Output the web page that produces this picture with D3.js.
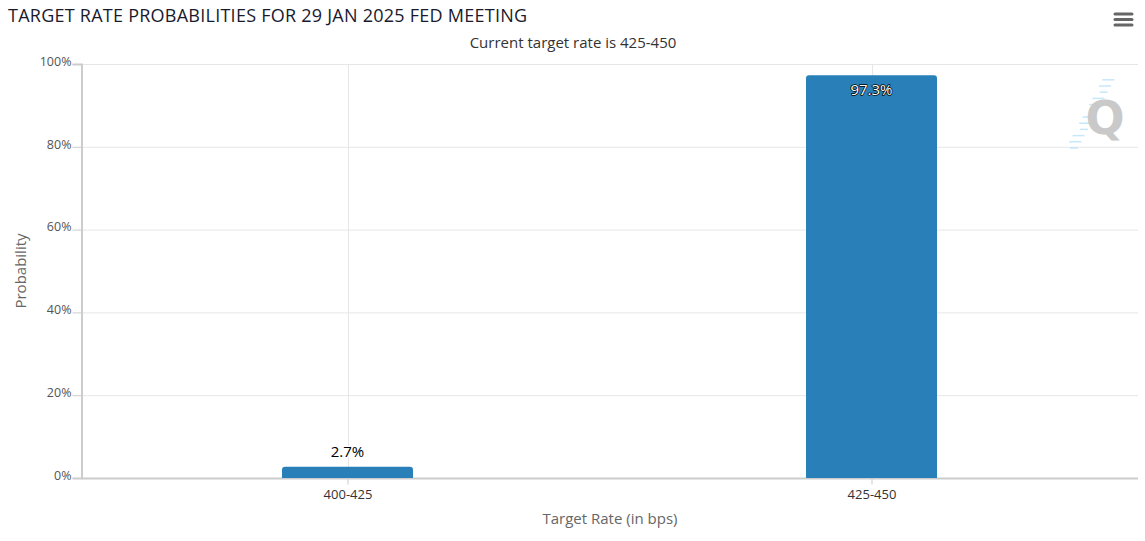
<!DOCTYPE html>
<html>
<head>
<meta charset="utf-8">
<script src="https://cdn.jsdelivr.net/npm/d3@7"></script>
<style>
  body { margin: 0; background: #fff; }
  text { font-family: "Open Sans", sans-serif; }
</style>
</head>
<body>
<script>
// Fed meeting rate probabilities
var categories = ["400-425", "425-450"];
var probabilities = [2.7, 97.3];
var yTicks = [0, 20, 40, 60, 80, 100];

var width = 1145;
var height = 541;

var margin = {
  top: 64,
  left: 82,
  right: 7,
  bottom: 63
};

var svg = d3.select("body")
  .append("svg")
  .attr("width", width)
  .attr("height", height);

// Scales (bands slightly inset from the plot frame)
var xScale = d3.scaleBand()
  .domain(categories)
  .range([85.5, 1133.5])
  .paddingInner(0.75)
  .paddingOuter(0.375);

var xGrid = d3.scalePoint()
  .domain(categories)
  .range([85.5, 1133.5])
  .padding(0.5);

var yScale = d3.scaleLinear()
  .domain([0, 100])
  .range([height - margin.bottom, margin.top]);

// Grid lines
svg.append("g")
  .selectAll("line.h")
  .data(yTicks)
  .enter()
  .append("line")
    .attr("x1", margin.left)
    .attr("x2", width - margin.right)
    .attr("y1", function(d) { return yScale(d) + 0.5; })
    .attr("y2", function(d) { return yScale(d) + 0.5; })
    .attr("stroke", "#e6e6e6");

svg.append("g")
  .selectAll("line.v")
  .data(categories)
  .enter()
  .append("line")
    .attr("x1", function(d) { return Math.round(xGrid(d)) + 0.5; })
    .attr("x2", function(d) { return Math.round(xGrid(d)) + 0.5; })
    .attr("y1", margin.top)
    .attr("y2", height - margin.bottom)
    .attr("stroke", "#e6e6e6");

// Axes
var yAxis = svg.append("g")
  .attr("transform", "translate(" + (margin.left - 0.5) + ",0)")
  .call(d3.axisLeft(yScale).tickValues(yTicks)
    .tickFormat(function(d) { return d + "%"; })
    .tickSize(9).tickPadding(1));
yAxis.select(".domain").attr("stroke", "#ccc").attr("stroke-width", 2);
yAxis.selectAll(".tick line").attr("stroke", "#ccc");
yAxis.selectAll("text").attr("fill", "#555").style("font-size", "12.5px")
  .style("font-family", "'Open Sans', sans-serif").attr("dy", "0.1em");

var xAxis = svg.append("g")
  .attr("transform", "translate(0," + (height - margin.bottom + 0.5) + ")")
  .call(d3.axisBottom(xGrid).tickSize(6).tickPadding(5));
xAxis.select(".domain").attr("stroke", "#ccc").attr("stroke-width", 2)
  .attr("d", "M" + margin.left + ",0H" + (width - margin.right));
xAxis.selectAll(".tick line").attr("stroke", "#ccc");
xAxis.selectAll("text").attr("fill", "#333").style("font-size", "13px")
  .style("font-family", "'Open Sans', sans-serif");

// Bars with rounded tops
var r = 3;
svg.append("g")
  .selectAll("path")
  .data(probabilities)
  .enter()
  .append("path")
    .attr("fill", "#2980b9")
    .attr("d", function(d, i) {
      var x0 = xScale(categories[i]), w = xScale.bandwidth();
      var y0 = yScale(d), y1 = yScale(0);
      return "M" + x0 + "," + y1 + "V" + (y0 + r) + "Q" + x0 + "," + y0 + " " + (x0 + r) + "," + y0 +
        "H" + (x0 + w - r) + "Q" + (x0 + w) + "," + y0 + " " + (x0 + w) + "," + (y0 + r) + "V" + y1 + "Z";
    });

// Data labels
svg.append("g")
  .selectAll("text")
  .data(probabilities)
  .enter()
  .append("text")
    .attr("x", function(d, i) { return xScale(categories[i]) + xScale.bandwidth() / 2; })
    .attr("y", function(d) { return d > 50 ? yScale(d) + 20 : yScale(d) - 10; })
    .attr("text-anchor", "middle")
    .style("font-size", "15px")
    .attr("fill", function(d) { return d > 50 ? "#fff" : "#000"; })
    .attr("stroke", function(d) { return d > 50 ? "#000" : "#fff"; })
    .attr("stroke-width", function(d) { return d > 50 ? 1.5 : 3; })
    .attr("stroke-linejoin", "round")
    .attr("paint-order", "stroke")
    .text(function(d) { return d.toFixed(1) + "%"; });

// Titles
svg.append("text")
  .attr("x", 8).attr("y", 22)
  .attr("fill", "#1a1a2e")
  .style("font-size", "18px")
  .style("letter-spacing", "0.25px")
  .text("TARGET RATE PROBABILITIES FOR 29 JAN 2025 FED MEETING");

svg.append("text")
  .attr("x", 573).attr("y", 48)
  .attr("text-anchor", "middle")
  .attr("fill", "#333")
  .style("font-size", "15px")
  .text("Current target rate is 425-450");

svg.append("text")
  .attr("x", 610).attr("y", 524)
  .attr("text-anchor", "middle")
  .attr("fill", "#666")
  .style("font-size", "15px")
  .text("Target Rate (in bps)");

svg.append("text")
  .attr("transform", "translate(26,271) rotate(-90)")
  .attr("text-anchor", "middle")
  .attr("fill", "#666")
  .style("font-size", "15px")
  .text("Probability");

// Menu icon
svg.append("g")
  .selectAll("line")
  .data([0, 1, 2])
  .enter()
  .append("line")
    .attr("x1", 1115).attr("x2", 1132)
    .attr("y1", function(d) { return 14 + d * 5.5; })
    .attr("y2", function(d) { return 14 + d * 5.5; })
    .attr("stroke", "#666")
    .attr("stroke-width", 3)
    .attr("stroke-linecap", "round");

// Watermark
var wm = svg.append("g").attr("opacity", 0.9);
wm.selectAll("line")
  .data(d3.range(12))
  .enter()
  .append("line")
    .attr("x1", function(d) { return 1070 + d * 3.3 - (d % 3 === 0 ? 0 : 4); })
    .attr("x2", function(d) { return 1074 + d * 3.3 + 4; })
    .attr("y1", function(d) { return 148 - d * 6.2; })
    .attr("y2", function(d) { return 148 - d * 6.2; })
    .attr("stroke", "#bfe6fb")
    .attr("stroke-width", 1.5);
wm.append("text")
  .attr("x", 1105).attr("y", 134)
  .attr("text-anchor", "middle")
  .attr("fill", "#c4c4c4")
  .style("font-size", "46px")
  .style("font-weight", "bold")
  .style("font-family", "'DejaVu Sans', sans-serif")
  .text("Q");
</script>
</body>
</html>
